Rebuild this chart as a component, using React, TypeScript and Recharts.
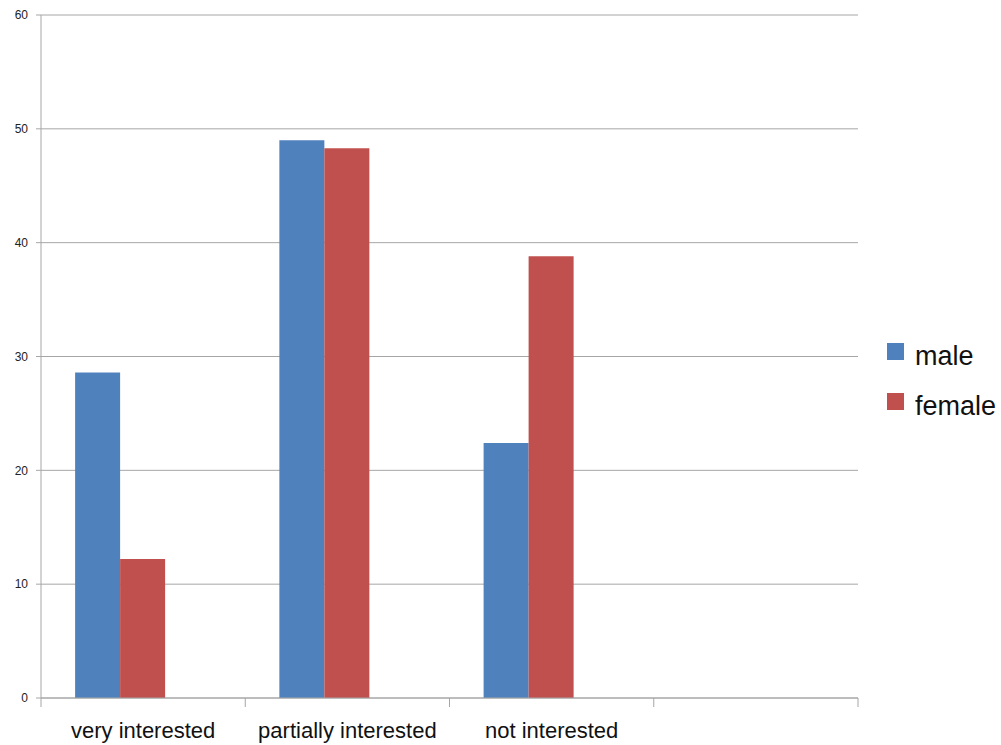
import React from 'react';
import { BarChart, Bar, XAxis, YAxis, CartesianGrid, Legend } from 'recharts';

const categories = ['very interested', 'partially interested', 'not interested', ''];
const maleValues = [28.6, 49.0, 22.4, null];
const femaleValues = [12.2, 48.3, 38.8, null];
// third (empty) series – the source chart reserves a slot for it
const spacerValues = [null, null, null, null];
const yTicks = [0, 10, 20, 30, 40, 50, 60];

const seriesInfo = [
  { key: 'male', label: 'male', color: '#4F81BD' },
  { key: 'female', label: 'female', color: '#C0504D' },
];

const data = categories.map((name, i) => ({
  name,
  male: maleValues[i],
  female: femaleValues[i],
  spacer: spacerValues[i],
}));

const CHART_W = 1001;
const CHART_H = 745;
const MARGIN = { top: 15, right: 143, bottom: 0, left: 0 };
const Y_AXIS_W = 41;
const BAND = (CHART_W - MARGIN.right - MARGIN.left - Y_AXIS_W) / categories.length;
const AXIS_GREY = '#a6a6a6';
const FONT = '"Liberation Sans", Arial, sans-serif';

// category label plus Excel-style tick marks between categories
const CategoryTick = ({ x, y, payload, index }: any) => {
  const last = index === categories.length - 1;
  return (
    <g>
      <line x1={x - BAND / 2} y1={y} x2={x - BAND / 2} y2={y + 9} stroke={AXIS_GREY} />
      {last && <line x1={x + BAND / 2} y1={y} x2={x + BAND / 2} y2={y + 9} stroke={AXIS_GREY} />}
      <text x={x} y={y} dy={40} textAnchor="middle" fontSize={22} fill="#111" fontFamily={FONT}>
        {payload.value}
      </text>
    </g>
  );
};

const SideLegend = () => (
  <svg width={114} height={100}>
    {seriesInfo.map((s, i) => (
      <g key={s.key}>
        <rect x={0} y={i * 50 + 8} width={17} height={17} fill={s.color} />
        <text x={28} y={i * 50 + 30} fontSize={27} fill="#111" fontFamily={FONT}>
          {s.label}
        </text>
      </g>
    ))}
  </svg>
);

export default function App() {
  return (
    <div style={{ position: 'absolute', top: 0, left: 0, background: '#fff', fontFamily: FONT }}>
      <BarChart
        width={CHART_W}
        height={CHART_H}
        data={data}
        margin={MARGIN}
        barCategoryGap="16.7%"
        barGap={0}
      >
        <CartesianGrid vertical={false} stroke={AXIS_GREY} />
        <XAxis
          dataKey="name"
          height={47}
          axisLine={{ stroke: AXIS_GREY }}
          tickLine={false}
          tickSize={0}
          tickMargin={0}
          interval={0}
          tick={<CategoryTick />}
        />
        <YAxis
          width={Y_AXIS_W}
          domain={[0, 60]}
          ticks={yTicks}
          interval={0}
          axisLine={{ stroke: AXIS_GREY }}
          tickLine={{ stroke: AXIS_GREY }}
          tickSize={5}
          tickMargin={8}
          tick={{ fontSize: 12, fill: '#222', fontFamily: FONT }}
        />
        <Legend
          layout="vertical"
          align="center"
          verticalAlign="middle"
          wrapperStyle={{ left: 887, top: 335, width: 114 }}
          content={<SideLegend />}
        />
        {seriesInfo.map((s) => (
          <Bar key={s.key} dataKey={s.key} fill={s.color} isAnimationActive={false} />
        ))}
        <Bar dataKey="spacer" fill="transparent" legendType="none" isAnimationActive={false} />
      </BarChart>
    </div>
  );
}
